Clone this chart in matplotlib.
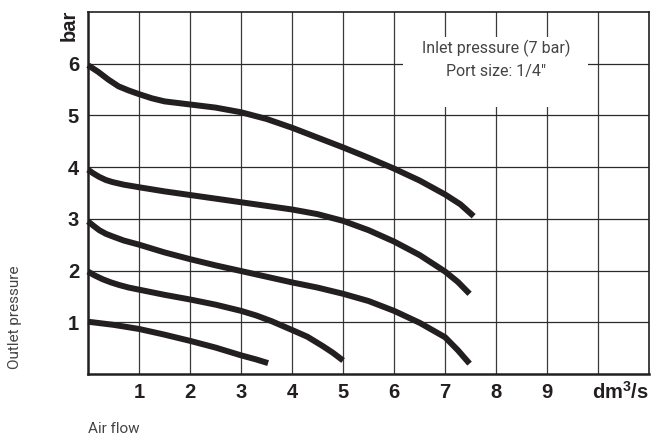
import matplotlib
matplotlib.use("Agg")
import matplotlib.pyplot as plt
from matplotlib.patches import Rectangle

plt.rcParams.update({
    "font.family": ["Liberation Sans", "DejaVu Sans"],
    "figure.dpi": 100,
    "mathtext.fontset": "custom",
    "mathtext.bf": "Liberation Sans:bold",
})
NARROW = ["Liberation Sans Narrow", "Roboto", "DejaVu Sans"]
INK = "#231f20"

# air flow (dm3/s) vs outlet pressure (bar), one curve per set pressure
flow_6 = [0.0, 0.2, 0.4, 0.6, 0.8, 1.0, 1.25, 1.5, 1.75, 2.0, 2.5, 3.0, 3.5,
          4.0, 4.5, 5.0, 5.5, 6.0, 6.5, 7.0, 7.3, 7.56]
bar_6 = [5.97, 5.84, 5.69, 5.56, 5.48, 5.41, 5.33, 5.27, 5.24, 5.21, 5.15, 5.06,
         4.93, 4.76, 4.57, 4.38, 4.18, 3.97, 3.74, 3.47, 3.28, 3.05]

flow_4 = [0.0, 0.1, 0.22, 0.35, 0.48, 0.7, 1.0, 1.5, 2.0, 2.5, 3.0, 3.5, 4.0,
          4.5, 5.0, 5.5, 6.0, 6.5, 7.0, 7.25, 7.48]
bar_4 = [3.95, 3.88, 3.81, 3.75, 3.71, 3.66, 3.61, 3.53, 3.46, 3.39, 3.32, 3.25,
         3.18, 3.09, 2.96, 2.78, 2.56, 2.30, 1.98, 1.78, 1.55]

flow_3 = [0.0, 0.1, 0.22, 0.35, 0.48, 0.7, 1.0, 1.5, 2.0, 2.5, 3.0, 3.5, 4.0,
          4.5, 5.0, 5.5, 6.0, 6.5, 7.0, 7.25, 7.48]
bar_3 = [2.95, 2.87, 2.78, 2.71, 2.66, 2.58, 2.50, 2.35, 2.22, 2.10, 1.99, 1.88,
         1.77, 1.67, 1.55, 1.41, 1.22, 0.99, 0.71, 0.46, 0.20]

flow_2 = [0.0, 0.12, 0.29, 0.45, 0.61, 0.8, 1.0, 1.5, 2.0, 2.5, 3.0, 3.3, 3.6,
          4.0, 4.3, 4.6, 4.8, 5.0]
bar_2 = [1.98, 1.91, 1.83, 1.77, 1.72, 1.67, 1.63, 1.53, 1.44, 1.34, 1.22, 1.13,
         1.02, 0.85, 0.72, 0.54, 0.41, 0.26]

flow_1 = [0.0, 0.5, 1.0, 1.5, 2.0, 2.5, 3.0, 3.3, 3.53]
bar_1 = [1.01, 0.95, 0.87, 0.76, 0.64, 0.51, 0.36, 0.28, 0.21]

x_ticks = [1, 2, 3, 4, 5, 6, 7, 8, 9]
y_ticks = [1, 2, 3, 4, 5, 6]

fig = plt.figure(figsize=(6.57, 4.41))
ax = fig.add_axes([0.134, 0.152, 0.854, 0.821])
ax.set_xlim(0, 11)
ax.set_ylim(0, 7)

# grid lines at every unit, incl. 10 for the unit column
for gx in x_ticks + [10]:
    ax.axvline(gx, color="#3a3a3a", lw=0.9, zorder=1)
for gy in y_ticks:
    ax.axhline(gy, color="#2a2a2a", lw=0.9, zorder=1)

# white box behind the note
ax.add_patch(Rectangle((6.17, 5.16), 3.63, 1.36, facecolor="white",
                       edgecolor="none", zorder=2))
ax.text(8.0, 6.3, "Inlet pressure (7 bar)", ha="center", va="center",
        fontsize=11.5, color="#444444", family=NARROW, zorder=3)
ax.text(8.0, 5.84, 'Port size: 1/4"', ha="center", va="center",
        fontsize=11.5, color="#444444", family=NARROW, zorder=3)

for fx, py in [(flow_6, bar_6), (flow_4, bar_4), (flow_3, bar_3),
               (flow_2, bar_2), (flow_1, bar_1)]:
    ax.plot(fx, py, color=INK, lw=4.3, solid_capstyle="butt",
            solid_joinstyle="round", zorder=4, clip_on=False)

ax.set_xticks(x_ticks)
ax.set_yticks(y_ticks)
ax.set_xticklabels([str(v) for v in x_ticks], fontsize=14.5, fontweight="bold")
ax.set_yticklabels([str(v) for v in y_ticks], fontsize=14.5, fontweight="bold")
ax.tick_params(length=0, pad=6.5, colors=INK)

for side in ["left", "bottom"]:
    ax.spines[side].set_linewidth(1.8)
for side in ["top", "right"]:
    ax.spines[side].set_linewidth(1.2)
for s in ax.spines.values():
    s.set_color(INK)
    s.set_zorder(5)

ax.text(9.88, -0.13, r"dm$^{\mathbf{3}}$/s", ha="left", va="top", fontsize=14.5,
        fontweight="bold", color=INK, clip_on=False)
fig.text(69 / 657, 1 - 25 / 441, "bar", rotation=90, ha="center", va="center",
         fontsize=14.5, fontweight="bold", color=INK)
fig.text(15 / 657, 1 - 317 / 441, "Outlet pressure", rotation=90, ha="center",
         va="center", fontsize=11, color="#444444", family=NARROW)
fig.text(88 / 657, 1 - 429 / 441, "Air flow", ha="left", va="center",
         fontsize=11, color="#444444", family=NARROW)

fig.savefig("out.png", dpi=100)
